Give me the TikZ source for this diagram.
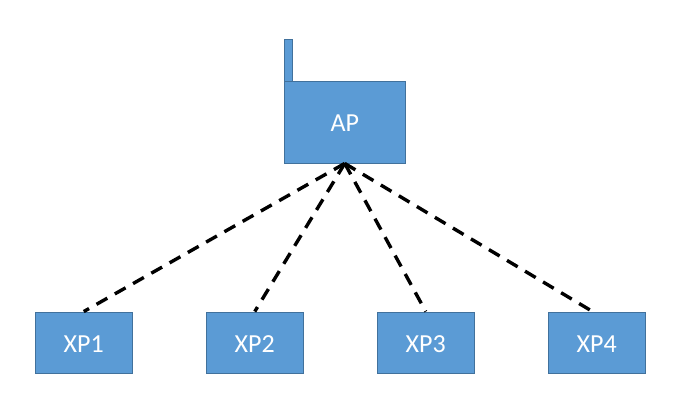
\documentclass[tikz,border=0pt]{standalone}
\usepackage{fontspec}
\setmainfont{Carlito}
\definecolor{boxfill}{HTML}{5B9BD5}
\definecolor{boxline}{HTML}{41719C}
\tikzset{
  x=1pt,y=-1pt,
  box/.style={draw=boxline,fill=boxfill,line width=0.9pt,inner sep=0pt,text=white,text height=19.4pt,text depth=0pt,font=\fontsize{26}{30}\selectfont},
  xpbox/.style={box,minimum width=96.5pt,minimum height=61pt},
  link/.style={draw=black,line width=3.4pt,dash pattern=on 12.4pt off 8.6pt},
}
\begin{document}
\begin{tikzpicture}
\useasboundingbox (0,0) rectangle (679,414);
\node[box,minimum width=8.5pt,minimum height=42pt] (ant) at (288.25,60) {};
\node[box,minimum width=121.5pt,minimum height=82pt] (ap) at (344.75,122) {AP};
\node[xpbox] (xp1) at (83.75,342.5) {XP1};
\node[xpbox] (xp2) at (254.75,342.5) {XP2};
\node[xpbox] (xp3) at (425.75,342.5) {XP3};
\node[xpbox] (xp4) at (596.75,342.5) {XP4};
\coordinate (xp4top) at (590,310);
\draw[link] (ap.south) -- (xp1.north);
\draw[link] (ap.south) -- (xp2.north);
\draw[link] (ap.south) -- (xp3.north);
\draw[link] (ap.south) -- (xp4top);
\end{tikzpicture}
\end{document}
